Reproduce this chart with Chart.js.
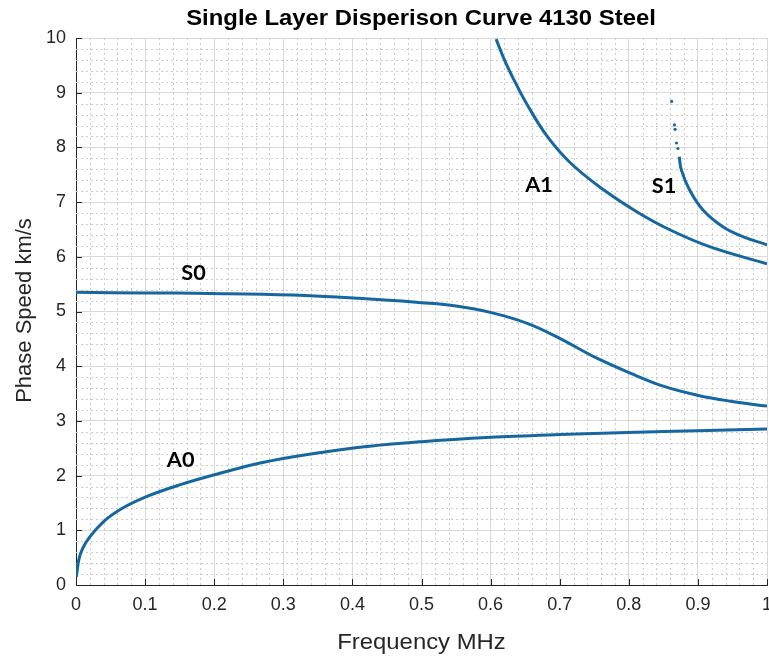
<!DOCTYPE html>
<html>
<head>
<meta charset="utf-8">
<title>Dispersion Curve</title>
<script src="https://cdn.jsdelivr.net/npm/chart.js@4/dist/chart.umd.min.js"></script>
<style>
    html, body { margin: 0; padding: 0; background: #fff; overflow: hidden; }
    #wrap { width: 771px; height: 657px; }
</style>
</head>
<body>
<div id="wrap"><canvas id="chart" width="771" height="657"></canvas></div>
<script>
// Mode data: frequency (MHz) vs phase speed (km/s)
const a0Freq = [0.0005, 0.004, 0.011, 0.02, 0.04, 0.064, 0.101, 0.15, 0.199, 0.27, 0.399, 0.5, 0.601, 0.7, 0.798, 0.899, 1.0];
const a0Speed = [0.15, 0.46, 0.70, 0.88, 1.16, 1.38, 1.61, 1.83, 2.01, 2.24, 2.50, 2.62, 2.70, 2.75, 2.79, 2.82, 2.85];

const s0Freq = [0, 0.1, 0.193, 0.313, 0.409, 0.5, 0.55, 0.601, 0.654, 0.70, 0.75, 0.803, 0.851, 0.899, 0.947, 1.0];
const s0Speed = [5.35, 5.34, 5.33, 5.30, 5.24, 5.16, 5.10, 4.98, 4.78, 4.51, 4.17, 3.87, 3.63, 3.47, 3.36, 3.27];

const a1Freq = [0.608, 0.620, 0.634, 0.653, 0.682, 0.716, 0.764, 0.812, 0.860, 0.918, 1.0];
const a1Speed = [9.98, 9.60, 9.23, 8.78, 8.20, 7.71, 7.22, 6.82, 6.49, 6.18, 5.87];

// S1 is only found sparsely near its cutoff
const s1DotFreq = [0.862, 0.866, 0.867, 0.869, 0.871];
const s1DotSpeed = [8.84, 8.41, 8.33, 8.08, 7.98];
const s1Freq = [0.873, 0.876, 0.888, 0.907, 0.936, 0.965, 1.0];
const s1Speed = [7.83, 7.59, 7.22, 6.86, 6.55, 6.37, 6.22];

// Mode name labels, placed in data coordinates
const modeLabels = ['A0', 'S0', 'A1', 'S1'];
const labelFreq = [0.1515, 0.170, 0.670, 0.851];
const labelSpeed = [2.27, 5.69, 7.31, 7.28];

const lineColor = '#16679f';
const axisColor = '#262626';
const stretch = 1.085;

const toPoints = (xs, ys) => xs.map((v, i) => ({ x: v, y: ys[i] }));

const curve = (pts, mode) => ({
    data: pts,
    borderColor: lineColor,
    borderWidth: 3,
    pointRadius: 0,
    fill: false,
    cubicInterpolationMode: mode,
    tension: 0.4
});

// Dotted minor grid, drawn under the curves
const minorGrid = {
    id: 'minorGrid',
    beforeDatasetsDraw(chart) {
        const { ctx, chartArea: a, scales: { x, y } } = chart;
        ctx.save();
        ctx.strokeStyle = '#cbcbcb';
        ctx.lineWidth = 1;
        ctx.setLineDash([2, 3]);
        for (let i = 1; i < 50; i++) {
            if (i % 5 === 0) continue;
            const px = Math.round(x.getPixelForValue(i / 50)) + 0.5;
            ctx.beginPath();
            ctx.moveTo(px, a.top);
            ctx.lineTo(px, a.bottom);
            ctx.stroke();
        }
        for (let i = 1; i < 50; i++) {
            if (i % 5 === 0) continue;
            const py = Math.round(y.getPixelForValue(i / 5)) + 0.5;
            ctx.beginPath();
            ctx.moveTo(a.left, py);
            ctx.lineTo(a.right, py);
            ctx.stroke();
        }
        ctx.restore();
    }
};

// Inner tick marks, titles and mode labels
const decorations = {
    id: 'decorations',
    afterDraw(chart) {
        const { ctx, chartArea: a, scales: { x, y } } = chart;
        ctx.save();

        ctx.strokeStyle = axisColor;
        ctx.lineWidth = 1;
        x.ticks.forEach(t => {
            const px = Math.round(x.getPixelForValue(t.value)) + 0.5;
            ctx.beginPath();
            ctx.moveTo(px, a.bottom);
            ctx.lineTo(px, a.bottom - 6);
            ctx.stroke();
        });
        y.ticks.forEach(t => {
            const py = Math.round(y.getPixelForValue(t.value)) + 0.5;
            ctx.beginPath();
            ctx.moveTo(a.left, py);
            ctx.lineTo(a.left + 6, py);
            ctx.stroke();
        });

        // chart title
        ctx.fillStyle = '#000';
        ctx.textAlign = 'center';
        ctx.textBaseline = 'alphabetic';
        ctx.save();
        ctx.translate(421, 25);
        ctx.scale(stretch, 1);
        ctx.font = 'bold 22px "Liberation Sans", Arial, sans-serif';
        ctx.fillText('Single Layer Disperison Curve 4130 Steel', 0, 0);
        ctx.restore();

        // axis titles
        ctx.fillStyle = axisColor;
        ctx.save();
        ctx.translate(421.5, 649);
        ctx.scale(stretch, 1);
        ctx.font = '22px "Liberation Sans", Arial, sans-serif';
        ctx.fillText('Frequency MHz', 0, 0);
        ctx.restore();

        ctx.save();
        ctx.translate(31, 310.5);
        ctx.rotate(-Math.PI / 2);
        ctx.font = '22px "Liberation Sans", Arial, sans-serif';
        ctx.fillText('Phase Speed km/s', 0, 0);
        ctx.restore();

        // mode labels
        ctx.fillStyle = '#000';
        ctx.textBaseline = 'middle';
        modeLabels.forEach((name, i) => {
            ctx.save();
            ctx.translate(x.getPixelForValue(labelFreq[i]), y.getPixelForValue(labelSpeed[i]));
            ctx.scale(stretch, 1);
            ctx.font = 'bold 20px Lato, "Open Sans", sans-serif';
            ctx.fillText(name, 0, 0);
            ctx.restore();
        });

        ctx.restore();
    }
};

const tickFont = { family: '"Liberation Sans", Arial, sans-serif', size: 18 };

new Chart(document.getElementById('chart'), {
    type: 'line',
    data: {
        datasets: [
            curve(toPoints(a0Freq, a0Speed), 'monotone'),
            curve(toPoints(s0Freq, s0Speed), 'default'),
            curve(toPoints(a1Freq, a1Speed), 'default'),
            curve(toPoints(s1Freq, s1Speed), 'default'),
            {
                data: toPoints(s1DotFreq, s1DotSpeed),
                showLine: false,
                pointRadius: 1.6,
                pointBorderWidth: 0,
                pointBackgroundColor: lineColor
            }
        ]
    },
    options: {
        responsive: false,
        animation: false,
        devicePixelRatio: 1,
        layout: { padding: { top: 38, left: 0, right: 0, bottom: 0 } },
        plugins: {
            legend: { display: false },
            tooltip: { enabled: false },
            title: { display: false }
        },
        scales: {
            x: {
                type: 'linear',
                min: 0,
                max: 1,
                ticks: {
                    stepSize: 0.1,
                    color: axisColor,
                    font: tickFont,
                    padding: 9,
                    maxRotation: 0,
                    callback: v => String(Number(v.toFixed(1)))
                },
                grid: { color: '#d9d9d9', lineWidth: 1, drawTicks: false },
                border: { color: axisColor, width: 1 },
                afterFit: s => { s.height = 72; s.paddingLeft = 0; s.paddingRight = 0; }
            },
            y: {
                type: 'linear',
                min: 0,
                max: 10,
                ticks: {
                    stepSize: 1,
                    color: axisColor,
                    font: tickFont,
                    padding: 10
                },
                grid: { color: '#d9d9d9', lineWidth: 1, drawTicks: false },
                border: { color: axisColor, width: 1 },
                afterFit: s => { s.width = 76; s.paddingTop = 0; s.paddingBottom = 0; }
            }
        }
    },
    plugins: [minorGrid, decorations]
});
</script>
</body>
</html>
